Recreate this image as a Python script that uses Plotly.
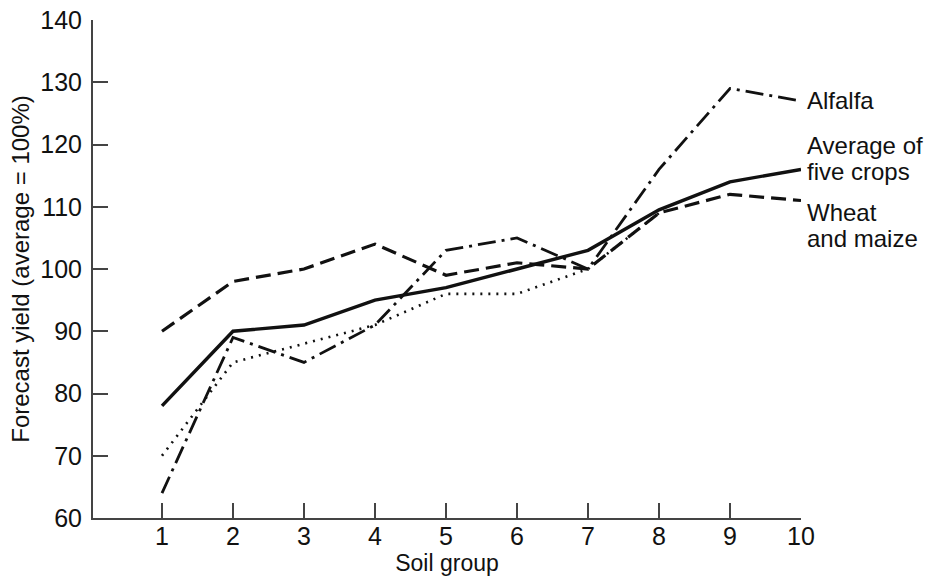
import plotly.graph_objects as go

# Forecast yield by soil group
soil_group = [1, 2, 3, 4, 5, 6, 7, 8, 9, 10]
wheat_maize = [90, 98, 100, 104, 99, 101, 100, 109, 112, 111]
average_five = [78, 90, 91, 95, 97, 100, 103, 109.5, 114, 116]
alfalfa = [64, 89, 85, 91, 103, 105, 100, 116, 129, 127]
other_crop_groups = [1, 2, 3, 4, 5, 6, 7, 8]
other_crop = [70, 85, 88, 91, 96, 96, 100, 109]

y_ticks = [60, 70, 80, 90, 100, 110, 120, 130, 140]

FONT = "Liberation Sans"
INK = "#111111"

fig = go.Figure()

fig.add_trace(go.Scatter(x=soil_group, y=wheat_maize, mode="lines",
                         line=dict(color=INK, width=3.2, dash="15px,7px")))
fig.add_trace(go.Scatter(x=other_crop_groups, y=other_crop, mode="lines",
                         line=dict(color=INK, width=2.6, dash="2px,6px")))
fig.add_trace(go.Scatter(x=soil_group, y=alfalfa, mode="lines",
                         line=dict(color=INK, width=2.8, dash="18px,6px,3px,6px")))
fig.add_trace(go.Scatter(x=soil_group, y=average_five, mode="lines",
                         line=dict(color=INK, width=3.4)))

# end-of-line labels (one annotation per text line)
labels = [("Alfalfa", 127.1), ("Average of", 119.8), ("five crops", 115.6),
          ("Wheat", 109.1), ("and maize", 104.9)]
for text, yv in labels:
    fig.add_annotation(text=text, xref="paper", x=1.007, yref="y", y=yv,
                       xanchor="left", yanchor="middle", showarrow=False,
                       borderpad=0,
                       font=dict(family=FONT, size=24, color=INK))

fig.update_layout(
    width=950, height=583,
    margin=dict(l=93, r=149, t=20, b=65),
    paper_bgcolor="white", plot_bgcolor="white",
    showlegend=False,
    font=dict(family=FONT, size=25, color=INK),
)

fig.update_xaxes(
    range=[1 - 69 / 71, 10], tickvals=soil_group,
    ticks="inside", ticklen=15, tickwidth=1.5, tickcolor="#444",
    showline=True, linecolor="#444", linewidth=2,
    showgrid=False, zeroline=False, automargin=False,
    ticklabelstandoff=-5,
    title=dict(text="Soil group", font=dict(size=23), standoff=6),
)
fig.update_yaxes(
    range=[60, 140], tickvals=y_ticks,
    ticks="inside", ticklen=15, tickwidth=1.5, tickcolor="#444",
    showline=True, linecolor="#444", linewidth=2,
    showgrid=False, zeroline=False, automargin=False,
    ticklabelstandoff=4,
    title=dict(text="Forecast yield (average = 100%)", font=dict(size=24), standoff=4),
)

# drop the default page margin so the figure sits at the window's corner
fig.write_html("out.html", config={"displayModeBar": False},
               post_script="document.body.style.margin='0';")
